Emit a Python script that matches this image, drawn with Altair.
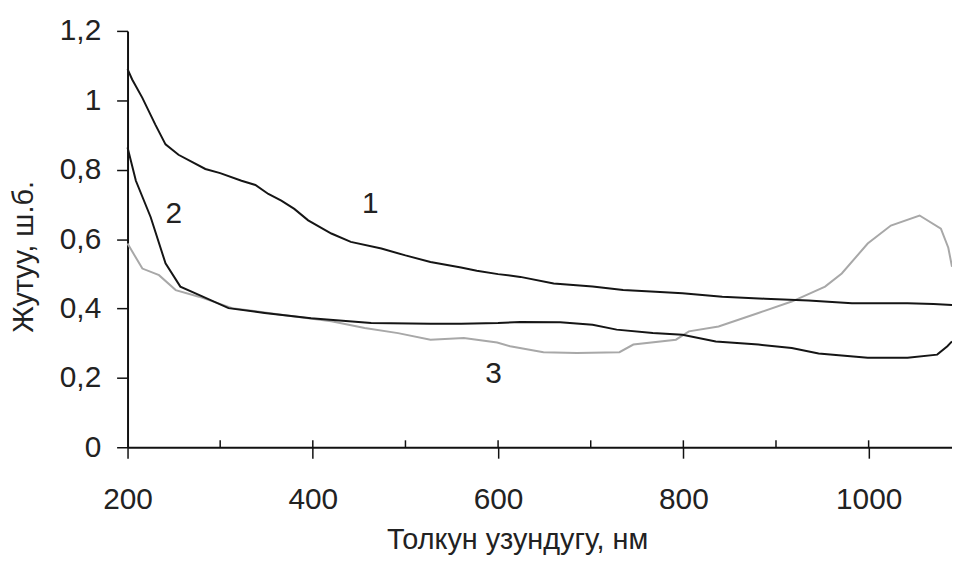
import altair as alt
import pandas as pd

# Curve 1 (black, upper)
x1 = [200, 205, 216, 230, 241, 255, 270, 284, 300, 323, 338, 352, 366, 380, 395, 420, 441, 474, 500, 527, 560, 577, 600, 624, 660, 702, 735, 770, 799, 842, 888, 935, 982, 1042, 1070, 1090]
y1 = [1.09, 1.06, 1.007, 0.93, 0.873, 0.843, 0.822, 0.802, 0.79, 0.768, 0.756, 0.73, 0.711, 0.687, 0.654, 0.616, 0.592, 0.573, 0.553, 0.534, 0.518, 0.509, 0.499, 0.491, 0.472, 0.463, 0.453, 0.448, 0.444, 0.434, 0.428, 0.423, 0.415, 0.415, 0.413, 0.41]

# Curve 2 (black, lower)
x2 = [200, 209, 225, 241, 257, 277, 309, 348, 398, 463, 527, 560, 600, 624, 667, 702, 728, 767, 799, 835, 881, 917, 946, 999, 1042, 1074, 1085, 1090]
y2 = [0.864, 0.768, 0.663, 0.53, 0.463, 0.439, 0.401, 0.387, 0.372, 0.358, 0.356, 0.356, 0.358, 0.361, 0.36, 0.353, 0.339, 0.329, 0.324, 0.305, 0.296, 0.286, 0.27, 0.258, 0.258, 0.267, 0.291, 0.305]

# Curve 3 (gray)
x3 = [200, 216, 234, 252, 277, 313, 366, 420, 456, 492, 527, 563, 599, 613, 649, 685, 731, 746, 792, 806, 838, 881, 917, 953, 971, 999, 1024, 1055, 1078, 1086, 1090]
y3 = [0.587, 0.515, 0.496, 0.453, 0.434, 0.401, 0.382, 0.363, 0.344, 0.329, 0.31, 0.315, 0.302, 0.291, 0.274, 0.272, 0.274, 0.296, 0.31, 0.334, 0.348, 0.387, 0.42, 0.463, 0.501, 0.587, 0.639, 0.668, 0.63, 0.575, 0.52]

# Curve labels
label_text = ["1", "2", "3"]
label_x = [462, 250, 595]
label_y = [0.702, 0.673, 0.21]

x_major = [200, 400, 600, 800, 1000]
x_inner = [300, 400, 500, 600, 700, 800, 900, 1000]
y_ticks = [0, 0.2, 0.4, 0.6, 0.8, 1.0, 1.2]

black_df = pd.DataFrame(
    [{"s": "1", "x": a, "y": b} for a, b in zip(x1, y1)]
    + [{"s": "2", "x": a, "y": b} for a, b in zip(x2, y2)]
)
gray_df = pd.DataFrame({"s": "3", "x": x3, "y": y3})
lbl_df = pd.DataFrame({"t": label_text, "x": label_x, "y": label_y})
tick_df = pd.DataFrame({"x": x_inner})

FONT = "Liberation Sans"
W, H = 829.7, 419

xscale = alt.Scale(domain=[200, 1090], nice=False, zero=False)
yscale = alt.Scale(domain=[0, 1.2], nice=False, zero=True)

xaxis = alt.Axis(
    values=x_major, title="Толкун узундугу, нм", grid=False,
    tickSize=11, tickWidth=1.5, tickColor="#111",
    domainColor="#111", domainWidth=2,
    labelFont=FONT, labelFontSize=30, labelColor="#222",
    labelExpr="format(datum.value, 'd')",
    labelBaseline="alphabetic", labelPadding=51, labelFlush=False,
    titleFont=FONT, titleFontSize=29, titleFontWeight="normal", titleColor="#222",
    titleX=392, titleY=102, titleAlign="center", titleBaseline="alphabetic",
)
yaxis = alt.Axis(
    values=y_ticks, title="Жутуу, ш.б.", grid=False,
    tickSize=11, tickWidth=1.5, tickColor="#111",
    domainColor="#111", domainWidth=2,
    labelFont=FONT, labelFontSize=30, labelColor="#222",
    labelExpr="replace(format(datum.value, '.1~f'), '.', ',')",
    labelBaseline="middle", labelPadding=16, labelFlush=False,
    titleFont=FONT, titleFontSize=29, titleFontWeight="normal", titleColor="#222",
    titleX=-96, titleY=227, titleAlign="center", titleBaseline="alphabetic", titleAngle=270,
)

gray = alt.Chart(gray_df).mark_line(strokeWidth=2, color="#a8a8a8").encode(
    x=alt.X("x:Q", scale=xscale, axis=xaxis),
    y=alt.Y("y:Q", scale=yscale, axis=yaxis),
)
black = alt.Chart(black_df).mark_line(strokeWidth=2, color="#151515").encode(
    x=alt.X("x:Q", scale=xscale),
    y=alt.Y("y:Q", scale=yscale),
    detail="s:N",
)
inner_ticks = alt.Chart(tick_df).mark_rule(color="#111", strokeWidth=1.5).encode(
    x=alt.X("x:Q", scale=xscale),
    y=alt.datum(0),
    y2=alt.datum(0.02),
)
labels = alt.Chart(lbl_df).mark_text(
    font=FONT, fontSize=30, color="#222", align="center", baseline="middle"
).encode(
    x=alt.X("x:Q", scale=xscale),
    y=alt.Y("y:Q", scale=yscale),
    text="t:N",
)

chart = alt.layer(gray, black, inner_ticks, labels).properties(
    width=W, height=H,
    autosize=alt.AutoSizeParams(type="none"),
    padding={"left": 120.3, "top": 21.3, "right": 0, "bottom": 109.7},
    background="white",
).configure_view(stroke=None)

chart.save("out.html", embed_options={"renderer": "svg", "actions": False})
